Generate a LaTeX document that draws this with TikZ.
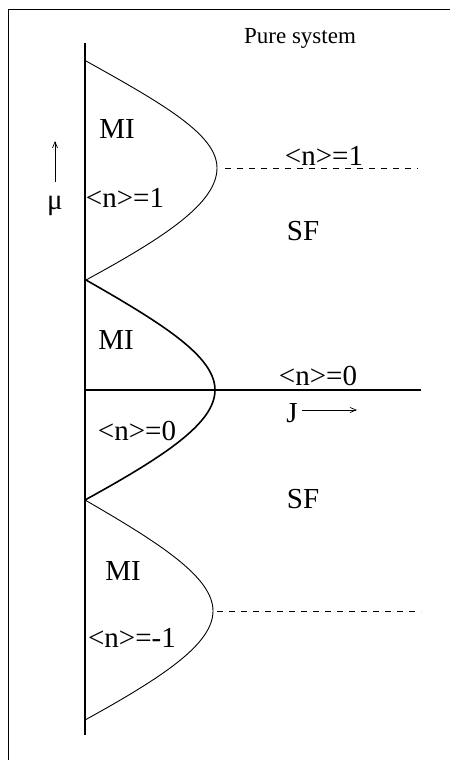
\documentclass[tikz,border=0pt]{standalone}
\usepackage{fontspec}
\setmainfont{Liberation Serif}
\usetikzlibrary{arrows.meta}
\begin{document}
\begin{tikzpicture}[x=1pt,y=-1pt,
  thinline/.style={line width=0.9pt},
  thickline/.style={line width=1.6pt},
  dashline/.style={line width=0.8pt, dash pattern=on 6pt off 6pt},
  lbl/.style={inner sep=0pt, font=\fontsize{29}{32}\selectfont},
  axarrow/.style={line width=0.7pt, -{Straight Barb[length=6pt,width=5pt]}}]
\useasboundingbox (0,0) rectangle (453,760);
% frame (top and left)
\draw[line width=0.8pt] (450,9) -- (8,9) -- (8,760);
% mu axis
\draw[thickline] (85,43) -- (85,735);
% phase boundaries
\coordinate (c1) at (86,61);
\coordinate (t1) at (217,168);
\coordinate (c2) at (86,280);
\coordinate (t2) at (215,390);
\coordinate (c3) at (85,500);
\coordinate (t3) at (213,611);
\coordinate (c4) at (85,720);
\draw[thinline] (c1) .. controls (165,105) and (217,135) .. (t1)
  .. controls (217,203) and (165,237) .. (c2);
\draw[thickline] (c2) .. controls (165,325) and (215,357) .. (t2)
  .. controls (215,423) and (165,456) .. (c3);
\draw[thinline] (c3) .. controls (163,545) and (213,578) .. (t3)
  .. controls (213,644) and (163,677) .. (c4);
% horizontal J axis
\coordinate (j0) at (85,390);
\coordinate (j1) at (421,390);
\draw[thickline] (j0) -- (j1);
% dashed lines
\coordinate (d1e) at (418,168);
\coordinate (d3e) at (421,611);
\draw[dashline] ([xshift=8pt]t1) -- (d1e);
\draw[dashline] ([xshift=4pt]t3) -- (d3e);
% labels
\node[lbl, font=\fontsize{23}{26}\selectfont] (title) at (300,38) {Pure system};
\node[lbl] (mi1) at (117,129) {MI};
\node[lbl] (n1l) at (125,198) {<n>=1};
\node[lbl] (n1r) at (324,156) {<n>=1};
\node[lbl] (sf1) at (303,231) {SF};
\node[lbl] (mi2) at (116,340) {MI};
\node[lbl] (n0r) at (318,376) {<n>=0};
\node[lbl] (n0l) at (137,431) {<n>=0};
\node[lbl] (sf2) at (303,499) {SF};
\node[lbl] (mi3) at (123,571) {MI};
\node[lbl] (nm1) at (132,638) {<n>=-1};
\node[lbl] (mu) at (55,206) {μ};
\node[lbl] (J) at (292,413) {J};
% axis arrows
\coordinate (mubase) at (55,182);
\coordinate (mutip) at (55,141);
\coordinate (jbase) at (302,410);
\coordinate (jtip) at (357,410);
\draw[axarrow] (mubase) -- (mutip);
\draw[axarrow] (jbase) -- (jtip);
\end{tikzpicture}
\end{document}
